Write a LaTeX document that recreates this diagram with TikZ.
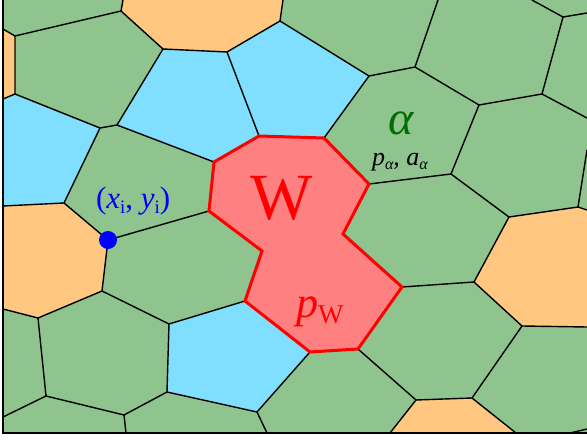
\documentclass[tikz,border=0pt]{standalone}
\usepackage{fontspec}
\setmainfont{Liberation Serif}
\definecolor{cgreen}{RGB}{143,196,143}
\definecolor{cblue}{RGB}{128,223,255}
\definecolor{corange}{RGB}{255,199,128}
\definecolor{cred}{RGB}{255,128,128}
\definecolor{tgreen}{RGB}{0,110,0}
\begin{document}
\begin{tikzpicture}[x=1pt,y=-1pt,
  edge/.style={line width=1.4pt, line join=round, line cap=round},
  wreg/.style={fill=cred, draw=red, line width=3pt, line join=miter},
  frame/.style={line width=1.5pt},
  dotnode/.style={circle, fill=blue, inner sep=0pt, minimum size=18pt},
  lbl/.style={inner sep=0pt, outer sep=0pt}]
\useasboundingbox (0,0) rectangle (587,441);
% vertices
\coordinate (c00) at (3,0);   \coordinate (c10) at (587,0);
\coordinate (c11) at (587,433); \coordinate (c01) at (3,433);
\coordinate (t1) at (123,0);  \coordinate (a1) at (121,11);
\coordinate (b1) at (15,36);  \coordinate (l1) at (3,29);
\coordinate (b2) at (15,94);  \coordinate (l2) at (3,99);
\coordinate (d1) at (163,49); \coordinate (e1) at (227,52);
\coordinate (f1) at (280,21); \coordinate (t2) at (283,0);
\coordinate (g1) at (117,125); \coordinate (h1) at (100,128);
\coordinate (i1) at (64,203); \coordinate (l3) at (3,206);
\coordinate (dt) at (108,240);
\coordinate (m1) at (102,291); \coordinate (m2) at (38,318);
\coordinate (l4) at (3,309);  \coordinate (m3) at (46,396);
\coordinate (l5) at (3,417);  \coordinate (m4) at (124,415);
\coordinate (bt1) at (126,433); \coordinate (m5) at (167,392);
\coordinate (m6) at (169,324); \coordinate (m7) at (257,412);
\coordinate (bt2) at (267,433);
\coordinate (w1) at (259,136); \coordinate (w2) at (324,138);
\coordinate (w3) at (369,184); \coordinate (w4) at (343,234);
\coordinate (w5) at (402,287); \coordinate (w6) at (358,349);
\coordinate (w7) at (310,352); \coordinate (w8) at (245,301);
\coordinate (w9) at (262,251); \coordinate (w10) at (209,211);
\coordinate (w11) at (214,162);
\coordinate (n1) at (369,76);  \coordinate (n2) at (415,67);
\coordinate (t3) at (438,0);   \coordinate (n3) at (479,105);
\coordinate (n4) at (451,174); \coordinate (n5) at (542,94);
\coordinate (n6) at (563,17);  \coordinate (t4) at (532,0);
\coordinate (r1) at (587,13);  \coordinate (r2) at (587,118);
\coordinate (n7) at (509,217); \coordinate (n8) at (578,207);
\coordinate (r3) at (587,150); \coordinate (r4) at (587,210);
\coordinate (n9) at (474,282); \coordinate (n10) at (522,326);
\coordinate (r5) at (587,327); \coordinate (n11) at (472,398);
\coordinate (n12) at (416,400); \coordinate (bt3) at (390,433);
\coordinate (bt4) at (516,433); \coordinate (bt5) at (570,433);
\coordinate (r6) at (587,429);
\begin{scope}
\clip (c00) rectangle (c11);
\fill[cgreen] (c00) rectangle (c11);
% coloured cells
\fill[corange] (l1) -- (b1) -- (b2) -- (l2) -- cycle;
\fill[corange] (t1) -- (t2) -- (f1) -- (e1) -- (d1) -- (a1) -- cycle;
\fill[cblue] (d1) -- (e1) -- (w1) -- (w11) -- (g1) -- cycle;
\fill[cblue] (e1) -- (f1) -- (n1) -- (w2) -- (w1) -- cycle;
\fill[cblue] (l2) -- (b2) -- (h1) -- (i1) -- (l3) -- cycle;
\fill[corange] (l3) -- (i1) -- (dt) -- (m1) -- (m2) -- (l4) -- cycle;
\fill[cblue] (m6) -- (w8) -- (w7) -- (m7) -- (m5) -- cycle;
\fill[corange] (n12) -- (n11) -- (bt4) -- (bt3) -- cycle;
\fill[corange] (n7) -- (n8) -- (r4) -- (r5) -- (n10) -- (n9) -- cycle;
% edges
\draw[edge] (t1) -- (a1) -- (b1) -- (l1);
\draw[edge] (b1) -- (b2) -- (l2);
\draw[edge] (a1) -- (d1) -- (e1) -- (f1) -- (t2);
\draw[edge] (f1) -- (n1);
\draw[edge] (d1) -- (g1) -- (h1) -- (b2);
\draw[edge] (h1) -- (i1) -- (l3);
\draw[edge] (i1) -- (dt) -- (w10);
\draw[edge] (dt) -- (m1) -- (m2) -- (l4);
\draw[edge] (m2) -- (m3) -- (l5);
\draw[edge] (m3) -- (m4) -- (bt1);
\draw[edge] (m4) -- (m5) -- (m6) -- (m1);
\draw[edge] (m6) -- (w8);
\draw[edge] (m5) -- (m7) -- (bt2);
\draw[edge] (m7) -- (w7);
\draw[edge] (e1) -- (w1);
\draw[edge] (g1) -- (w11);
\draw[edge] (n1) -- (w2);
\draw[edge] (n1) -- (n2) -- (t3);
\draw[edge] (n2) -- (n3) -- (n4) -- (w3);
\draw[edge] (n3) -- (n5) -- (n6) -- (t4);
\draw[edge] (n6) -- (r1);
\draw[edge] (n5) -- (r2);
\draw[edge] (n4) -- (n7) -- (n8) -- (r3);
\draw[edge] (n8) -- (r4);
\draw[edge] (n7) -- (n9) -- (w5);
\draw[edge] (n9) -- (n10) -- (r5);
\draw[edge] (n10) -- (n11) -- (n12) -- (w6);
\draw[edge] (n12) -- (bt3);
\draw[edge] (n11) -- (bt4);
\draw[edge] (bt5) -- (r6);
% merged region W
\draw[wreg] (w1) -- (w2) -- (w3) -- (w4) -- (w5) -- (w6) -- (w7) -- (w8) -- (w9) -- (w10) -- (w11) -- cycle;
\end{scope}
% frame
\draw[frame] (3,0) -- (c01) -- (587,433);
% vertex dot
\node[dotnode] (dot) at (dt) {};
% labels
\node[lbl, anchor=base, text=red, font=\fontsize{66}{66}\selectfont] (wlab) at (282,220) {W};
\node[lbl, anchor=base west, text=red] (pw) at (296,317)
  {{\fontsize{44}{44}\selectfont\itshape p}\raisebox{-6pt}{\fontsize{27}{27}\selectfont W}};
\node[lbl, anchor=base, text=tgreen, font=\fontsize{48}{48}\selectfont\itshape] (alab) at (401,135) {α};
\node[lbl, anchor=base west, font=\fontsize{26}{26}\selectfont] (pa) at (372,166)
  {\itshape p\raisebox{-4pt}{\fontsize{16}{16}\selectfont α}, a\raisebox{-4pt}{\fontsize{16}{16}\selectfont α}};
\node[lbl, anchor=base west, text=blue, font=\fontsize{31}{31}\selectfont] (xy) at (96,209)
  {(\textit{x}\raisebox{-5pt}{\fontsize{19}{19}\selectfont i}, \textit{y}\raisebox{-5pt}{\fontsize{19}{19}\selectfont i})};
\end{tikzpicture}
\end{document}
